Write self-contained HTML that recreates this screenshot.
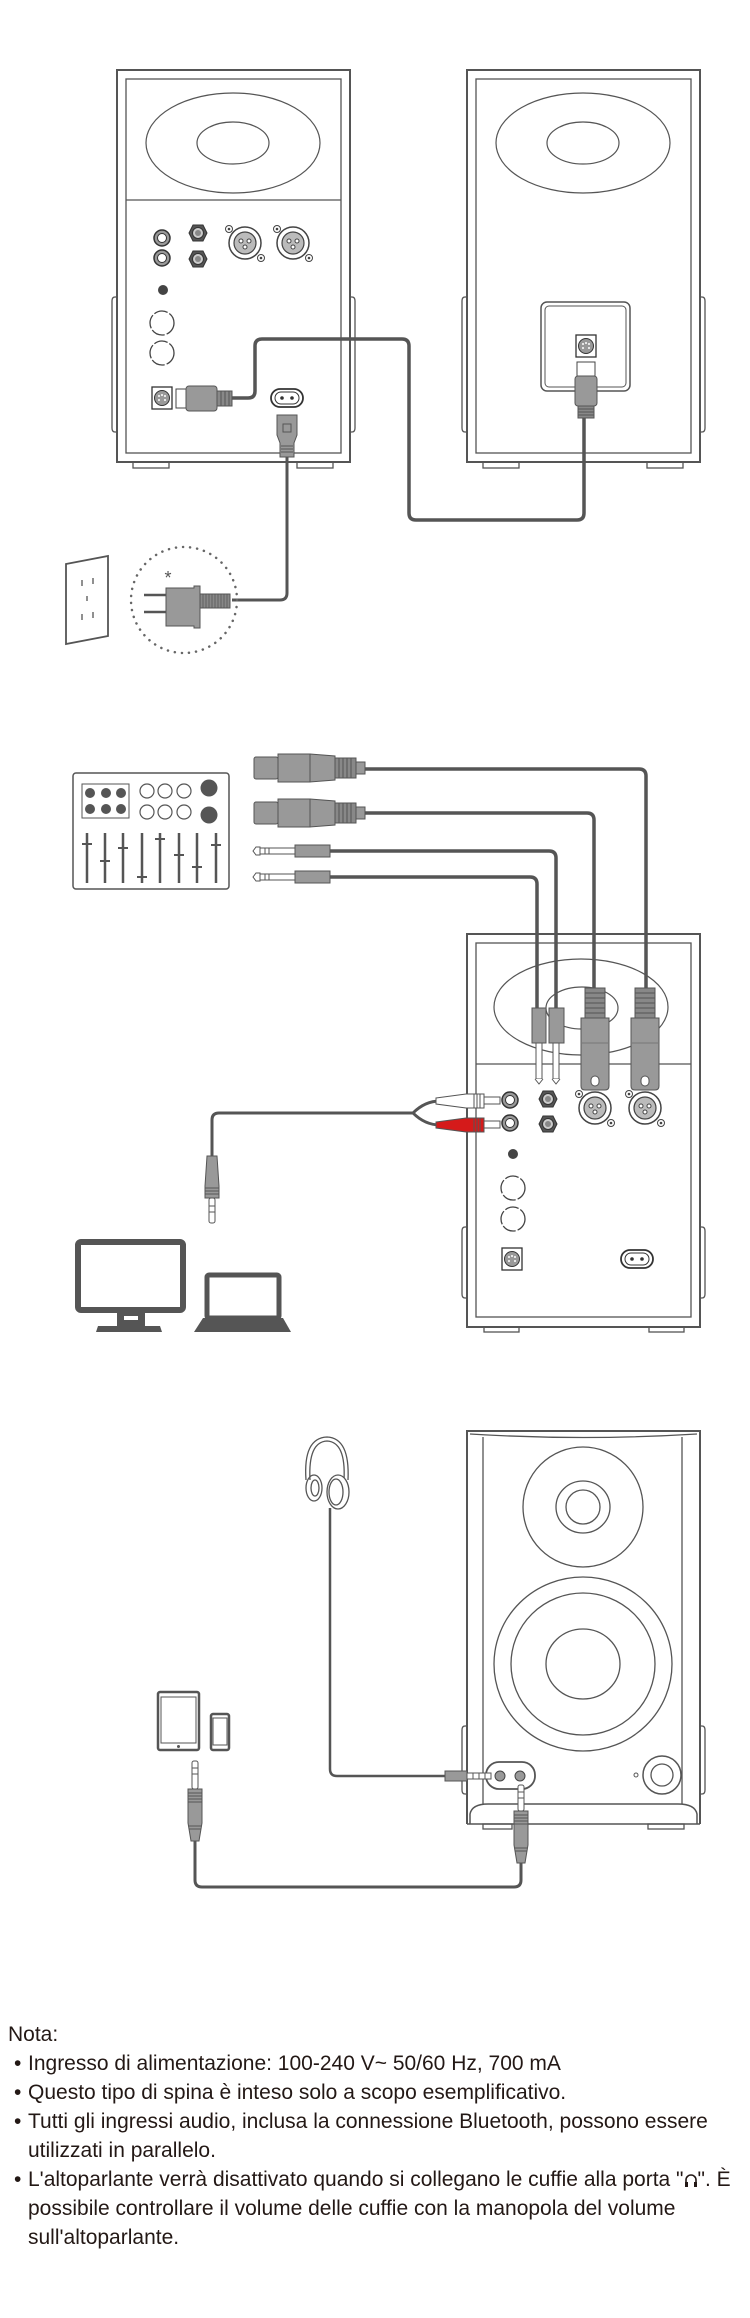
<!DOCTYPE html>
<html><head><meta charset="utf-8"><style>
html,body{margin:0;padding:0;background:#fff;}
body{width:750px;height:2318px;position:relative;overflow:hidden;font-family:"Liberation Sans",sans-serif;}
svg{position:absolute;left:0;top:0;}
.t{position:absolute;left:0;top:2020px;font-size:21px;line-height:29px;color:#231815;white-space:nowrap;}
.t div{height:29px;}
.b{padding-left:14px;}
.b span.d{display:inline-block;width:14px;}
.c{padding-left:28px;}
</style></head><body>
<svg width="750" height="2318" viewBox="0 0 750 2318" xmlns="http://www.w3.org/2000/svg">
<defs>
<g id="xlrs"><circle r="16" fill="#fff" stroke="#444" stroke-width="1.5"/><circle r="11" fill="#bbb" stroke="#444" stroke-width="1.2"/><circle cx="-4" cy="-2" r="2" fill="#fff" stroke="#444"/><circle cx="4" cy="-2" r="2" fill="#fff" stroke="#444"/><circle cx="0" cy="4" r="2" fill="#fff" stroke="#444"/><circle cx="-16" cy="-14" r="3.5" fill="#fff" stroke="#444"/><circle cx="-16" cy="-14" r="1.3" fill="#444"/><circle cx="16" cy="15" r="3.5" fill="#fff" stroke="#444"/><circle cx="16" cy="15" r="1.3" fill="#444"/></g>
<g id="rca"><circle r="8" fill="#999" stroke="#333" stroke-width="1.5"/><circle r="4.5" fill="#fff" stroke="#333"/></g>
<g id="jk"><polygon points="-5,-8 5,-8 9,0 5,8 -5,8 -9,0" fill="#555" stroke="#333"/><circle r="5.5" fill="#ccc" stroke="#333"/><circle r="3" fill="#888"/></g>
<g id="knob"><circle r="12" fill="#fff" stroke="#444" stroke-width="1.3" stroke-dasharray="14 2"/></g>
<g id="din"><rect x="-10" y="-11" width="20" height="22" fill="#fff" stroke="#333" stroke-width="1.3"/><circle r="7.5" fill="#999" stroke="#333"/><circle cx="-3" cy="-2" r="1" fill="#fff"/><circle cx="0" cy="-3" r="1" fill="#fff"/><circle cx="3" cy="-2" r="1" fill="#fff"/><circle cx="-3" cy="2" r="1" fill="#fff"/><circle cx="3" cy="2" r="1" fill="#fff"/></g>
<g id="pwr"><rect x="-16" y="-9" width="32" height="18" rx="9" fill="#fff" stroke="#333" stroke-width="1.8"/><rect x="-12" y="-6" width="24" height="12" rx="6" fill="#fff" stroke="#333" stroke-width="1"/><circle cx="-5" r="1.8" fill="#333"/><circle cx="5" r="1.8" fill="#333"/></g>
<g id="xlrh"><rect x="0" y="-11" width="24" height="22" rx="2" fill="#999" stroke="#555"/><rect x="24" y="-14" width="32" height="28" fill="#999" stroke="#555"/><polygon points="56,-14 81,-12 81,12 56,14" fill="#999" stroke="#555"/><rect x="81" y="-10" width="21" height="20" fill="#888" stroke="#555"/><path d="M85,-10v20M89,-10v20M93,-10v20M97,-10v20" stroke="#555"/><rect x="102" y="-6" width="9" height="12" fill="#999" stroke="#555"/></g>
<g id="jkh"><path d="M0,0 l3,-4 h4 v8 h-4z" fill="#fff" stroke="#555"/><rect x="7" y="-3" width="35" height="6" fill="#fff" stroke="#555"/><path d="M12,-3v6M16,-3v6" stroke="#555"/><rect x="42" y="-6" width="35" height="12" fill="#999" stroke="#555"/></g>
</defs>
<g fill="none" stroke="#555" stroke-width="2">
<!-- ===== PANEL 1 ===== -->
<rect x="117" y="70" width="233" height="392"/>
<rect x="126" y="79" width="215" height="374" stroke-width="1.3"/>
<line x1="126" y1="200" x2="341" y2="200" stroke-width="1.3"/>
<ellipse cx="233" cy="143" rx="87" ry="50" stroke-width="1.2"/>
<ellipse cx="233" cy="143" rx="36" ry="21" stroke-width="1.2"/>
<path d="M117,297h-2q-3,0-3,4v127q0,4,3,4h2M350,297h2q3,0,3,4v127q0,4-3,4h-2" stroke-width="1.3"/>
<rect x="133" y="462" width="36" height="6" stroke-width="1.3"/><rect x="297" y="462" width="36" height="6" stroke-width="1.3"/>
<rect x="467" y="70" width="233" height="392"/>
<rect x="476" y="79" width="215" height="374" stroke-width="1.3"/>
<ellipse cx="583" cy="143" rx="87" ry="50" stroke-width="1.2"/>
<ellipse cx="583" cy="143" rx="36" ry="21" stroke-width="1.2"/>
<path d="M467,297h-2q-3,0-3,4v127q0,4,3,4h2M700,297h2q3,0,3,4v127q0,4-3,4h-2" stroke-width="1.3"/>
<rect x="483" y="462" width="36" height="6" stroke-width="1.3"/><rect x="647" y="462" width="36" height="6" stroke-width="1.3"/>
<rect x="541" y="302" width="89" height="89" rx="6" stroke-width="1.5"/>
<rect x="545" y="306" width="81" height="81" rx="4" stroke-width="1"/>
</g>
<use href="#rca" x="162" y="238"/><use href="#rca" x="162" y="258"/>
<use href="#jk" x="198" y="233"/><use href="#jk" x="198" y="259"/>
<use href="#xlrs" x="245" y="243"/><use href="#xlrs" x="293" y="243"/>
<circle cx="163" cy="290" r="5" fill="#444"/>
<use href="#knob" x="162" y="323"/><use href="#knob" x="162" y="353"/>
<use href="#din" x="162" y="398"/>
<use href="#pwr" x="287" y="398"/>
<use href="#din" x="586" y="346"/>
<path d="M232,398 H248 Q255,398 255,391 V346 Q255,339 262,339 H402 Q409,339 409,346 V513 Q409,520 416,520 H577 Q584,520 584,513 V417" fill="none" stroke="#555" stroke-width="3.5"/>
<rect x="176" y="389" width="10" height="19" fill="#fff" stroke="#444"/>
<rect x="186" y="386" width="31" height="25" rx="3" fill="#999" stroke="#555"/>
<rect x="217" y="391" width="15" height="15" fill="#888" stroke="#555"/><path d="M221,391v15M225,391v15M229,391v15" stroke="#555"/>
<rect x="577" y="362" width="18" height="14" fill="#fff" stroke="#444"/>
<rect x="575" y="376" width="22" height="30" rx="3" fill="#999" stroke="#555"/>
<rect x="578" y="406" width="16" height="12" fill="#888" stroke="#555"/><path d="M578,409h16M578,412h16M578,415h16" stroke="#555"/>
<path d="M287,457 V593 Q287,600 280,600 H232" fill="none" stroke="#555" stroke-width="3"/>
<path d="M277,415 h20 v20 l-3,8 v14 h-14 v-14 l-3,-8z" fill="#999" stroke="#555"/>
<rect x="283" y="424" width="8" height="8" fill="none" stroke="#555"/>
<path d="M281,446h12M281,449h12M281,452h12" stroke="#555"/>
<circle cx="184" cy="600" r="53" fill="none" stroke="#666" stroke-width="2.5" stroke-dasharray="0.1 7" stroke-linecap="round"/>
<text x="168" y="584" font-size="18" fill="#555" text-anchor="middle" font-family="Liberation Sans, sans-serif">*</text>
<path d="M144,595h22M144,612h22" stroke="#555" stroke-width="2.5"/>
<path d="M166,588 h28 v-2 h6 v42 h-6 v-2 h-28z" fill="#999" stroke="#555"/>
<rect x="200" y="594" width="30" height="14" fill="#888" stroke="#555"/>
<path d="M203,594v14M206,594v14M209,594v14M212,594v14M215,594v14M218,594v14M221,594v14M224,594v14M227,594v14" stroke="#555" stroke-width="0.8"/>
<polygon points="66,564 108,556 108,636 66,644" fill="#fff" stroke="#555" stroke-width="1.8"/>
<path d="M82,580v6M93,578v6M87,596v5M82,614v6M93,612v6" stroke="#555" stroke-width="1.3"/>
<!-- ===== PANEL 2 ===== -->
<rect x="73" y="773" width="156" height="116" rx="3" fill="#fff" stroke="#555" stroke-width="1.5"/>
<rect x="82" y="784" width="47" height="34" fill="none" stroke="#555"/>
<g fill="#555"><circle cx="90" cy="793" r="5"/><circle cx="106" cy="793" r="5"/><circle cx="121" cy="793" r="5"/><circle cx="90" cy="809" r="5"/><circle cx="106" cy="809" r="5"/><circle cx="121" cy="809" r="5"/><circle cx="209" cy="788" r="8.5"/><circle cx="209" cy="815" r="8.5"/></g>
<g fill="none" stroke="#555" stroke-width="1.2"><circle cx="147" cy="791" r="7"/><circle cx="165" cy="791" r="7"/><circle cx="184" cy="791" r="7"/><circle cx="147" cy="812" r="7"/><circle cx="165" cy="812" r="7"/><circle cx="184" cy="812" r="7"/></g>
<g stroke="#555" stroke-width="2.5"><path d="M87,833v50M105,833v50M123,833v50M142,833v50M160,833v50M179,833v50M197,833v50M216,833v50"/><path d="M82,844h10M100,861h10M118,848h10M137,877h10M155,839h10M174,855h10M192,867h10M211,845h10" stroke-width="2"/></g>
<g fill="none" stroke="#555" stroke-width="3.5">
<path d="M365,769 H639 Q646,769 646,776 V988"/>
<path d="M365,813 H587 Q594,813 594,820 V988"/>
<path d="M330,851 H549 Q556,851 556,858 V1008"/>
<path d="M330,877 H530 Q537,877 537,884 V1008"/>
</g>
<use href="#xlrh" x="254" y="768"/><use href="#xlrh" x="254" y="813"/>
<use href="#jkh" x="253" y="851"/><use href="#jkh" x="253" y="877"/>
<g fill="none" stroke="#555" stroke-width="2">
<rect x="467" y="934" width="233" height="393"/>
<rect x="476" y="943" width="215" height="374" stroke-width="1.3"/>
<line x1="476" y1="1064" x2="691" y2="1064" stroke-width="1.3"/>
<ellipse cx="581" cy="1007" rx="87" ry="48" stroke-width="1.2"/>
<ellipse cx="582" cy="1008" rx="36" ry="21" stroke-width="1.2"/>
<path d="M467,1227h-2q-3,0-3,4v63q0,4,3,4h2M700,1227h2q3,0,3,4v63q0,4-3,4h-2" stroke-width="1.3"/>
<rect x="484" y="1327" width="35" height="5" stroke-width="1.3"/><rect x="649" y="1327" width="35" height="5" stroke-width="1.3"/>
</g>
<g>
<rect x="585" y="988" width="20" height="30" fill="#888" stroke="#555"/><path d="M585,993h20M585,998h20M585,1003h20M585,1008h20M585,1013h20" stroke="#555"/>
<path d="M581,1018h28v68q0,4-4,4h-20q-4,0-4-4z" fill="#999" stroke="#555"/><path d="M581,1043h28" stroke="#777"/><rect x="591" y="1076" width="8" height="10" rx="4" fill="#fff" stroke="#555"/>
<rect x="635" y="988" width="20" height="30" fill="#888" stroke="#555"/><path d="M635,993h20M635,998h20M635,1003h20M635,1008h20M635,1013h20" stroke="#555"/>
<path d="M631,1018h28v68q0,4-4,4h-20q-4,0-4-4z" fill="#999" stroke="#555"/><path d="M631,1043h28" stroke="#777"/><rect x="641" y="1076" width="8" height="10" rx="4" fill="#fff" stroke="#555"/>
<rect x="532" y="1008" width="14" height="35" fill="#999" stroke="#555"/><rect x="536" y="1043" width="6" height="36" fill="#fff" stroke="#555"/><path d="M535,1079 l4,5 4,-5" fill="#fff" stroke="#555"/>
<rect x="549" y="1008" width="15" height="35" fill="#999" stroke="#555"/><rect x="553" y="1043" width="6" height="36" fill="#fff" stroke="#555"/><path d="M552,1079 l4,5 4,-5" fill="#fff" stroke="#555"/>
</g>
<use href="#rca" x="510" y="1100"/><use href="#rca" x="510" y="1123"/>
<use href="#jk" x="548" y="1099"/><use href="#jk" x="548" y="1124"/>
<use href="#xlrs" x="595" y="1108"/><use href="#xlrs" x="645" y="1108"/>
<circle cx="513" cy="1154" r="5" fill="#444"/>
<use href="#knob" x="513" y="1188"/><use href="#knob" x="513" y="1219"/>
<use href="#din" x="512" y="1259"/>
<use href="#pwr" x="637" y="1259"/>
<path d="M413,1113 Q425,1101 440,1101 M413,1113 Q425,1125 440,1125 M413,1113 H219 Q212,1113 212,1120 V1156" fill="none" stroke="#555" stroke-width="3"/>
<path d="M436,1098 l30,-4 h8 v14 h-8 l-30,-4z" fill="#fff" stroke="#555"/><rect x="474" y="1094" width="10" height="14" fill="#fff" stroke="#555"/><path d="M477,1094v14M480,1094v14" stroke="#555"/><rect x="484" y="1097" width="16" height="7" fill="#fff" stroke="#555"/>
<path d="M436,1122 l30,-4 h8 v14 h-8 l-30,-4z" fill="#d51a1a" stroke="#555"/><rect x="474" y="1118" width="10" height="14" fill="#d51a1a" stroke="#555"/><path d="M477,1118v14M480,1118v14" stroke="#555"/><rect x="484" y="1121" width="16" height="7" fill="#fff" stroke="#555"/>
<path d="M207,1156 h10 l2,30 v12 h-14 v-12z" fill="#999" stroke="#555"/><path d="M205,1188h14M205,1191h14M205,1194h14" stroke="#555"/>
<rect x="209" y="1198" width="6" height="25" rx="2" fill="#fff" stroke="#555"/><path d="M209,1206h6M209,1212h6" stroke="#555"/>
<rect x="78" y="1242" width="105" height="68" rx="3" fill="#fff" stroke="#555" stroke-width="6"/>
<rect x="117" y="1313" width="28" height="14" fill="#555"/><rect x="124" y="1316" width="14" height="4" fill="#fff"/>
<polygon points="96,1332 162,1332 160,1326 98,1326" fill="#555"/>
<rect x="207" y="1275" width="72" height="43" rx="2" fill="#fff" stroke="#555" stroke-width="5"/>
<polygon points="194,1332 291,1332 283,1318 203,1318" fill="#555"/>
<!-- ===== PANEL 3 ===== -->
<g fill="none" stroke="#555" stroke-width="2">
<path d="M467,1824 V1431 H700 V1824"/>
<path d="M470,1434 Q583,1441 697,1434" stroke-width="1.3"/>
<path d="M483,1437 V1804 M682,1437 V1804" stroke-width="1.3"/>
<path d="M470,1824 V1814 Q472,1804 488,1804 H678 Q695,1804 697,1814 V1824 M467,1824 H700" stroke-width="1.5"/>
<path d="M467,1726h-2q-3,0-3,4v60q0,4,3,4h2M700,1726h2q3,0,3,4v60q0,4-3,4h-2" stroke-width="1.3"/>
<rect x="483" y="1824" width="29" height="5" stroke-width="1.3"/><rect x="648" y="1824" width="36" height="5" stroke-width="1.3"/>
<ellipse cx="583" cy="1507" rx="60" ry="60" stroke-width="1.3"/>
<ellipse cx="583" cy="1507" rx="27" ry="26" stroke-width="1.3"/>
<ellipse cx="583" cy="1507" rx="17" ry="17" stroke-width="1.3"/>
<ellipse cx="583" cy="1664" rx="89" ry="87" stroke-width="1.3"/>
<ellipse cx="583" cy="1664" rx="72" ry="71" stroke-width="1.3"/>
<ellipse cx="583" cy="1664" rx="37" ry="35" stroke-width="1.3"/>
<rect x="486" y="1762" width="49" height="27" rx="13" stroke-width="1.8"/>
<circle cx="662" cy="1775" r="19" stroke-width="1.5"/>
<circle cx="662" cy="1775" r="11" stroke-width="1.3"/>
<circle cx="636" cy="1775" r="2" stroke-width="1"/>
</g>
<circle cx="500" cy="1776" r="5" fill="#999" stroke="#444"/><circle cx="520" cy="1776" r="5" fill="#999" stroke="#444"/>
<path d="M330,1508 V1769 Q330,1776 337,1776 H445" fill="none" stroke="#555" stroke-width="2.5"/>
<rect x="445" y="1771" width="22" height="10" fill="#999" stroke="#555"/>
<rect x="467" y="1773" width="24" height="6" fill="#fff" stroke="#555"/><path d="M473,1773v6M479,1773v6M485,1773v6" stroke="#555"/>
<g fill="none" stroke="#555" stroke-width="1.3">
<path d="M306,1480 Q303,1438 327,1437 Q350,1438 348,1480"/>
<path d="M310,1480 Q308,1442 327,1441 Q346,1442 344,1480"/>
<ellipse cx="314" cy="1488" rx="8" ry="13"/><ellipse cx="315" cy="1488" rx="4" ry="8"/>
<ellipse cx="338" cy="1492" rx="11" ry="17" fill="#fff"/><ellipse cx="336" cy="1492" rx="7" ry="13"/>
</g>
<rect x="158" y="1692" width="41" height="58" rx="2" fill="#fff" stroke="#555" stroke-width="2.5"/><rect x="161" y="1697" width="35" height="46" fill="none" stroke="#555" stroke-width="1"/><circle cx="178.5" cy="1746.5" r="1.5" fill="#555"/>
<rect x="211" y="1714" width="18" height="36" rx="2" fill="#fff" stroke="#555" stroke-width="2.5"/><rect x="213" y="1718" width="14" height="27" fill="none" stroke="#555" stroke-width="1"/>
<path d="M195,1841 V1880 Q195,1887 202,1887 H514 Q521,1887 521,1880 V1863" fill="none" stroke="#555" stroke-width="3"/>
<rect x="192" y="1761" width="6" height="28" rx="2" fill="#fff" stroke="#555"/><path d="M192,1768h6M192,1774h6" stroke="#555"/>
<path d="M188,1789 h14 v34 l-3,18 h-8 l-3,-18z" fill="#999" stroke="#555"/><path d="M188,1793h14M188,1796h14M188,1799h14M188,1802h14M189,1826h12M189,1829h12" stroke="#555"/>
<rect x="518" y="1785" width="6" height="26" rx="2" fill="#fff" stroke="#555"/><path d="M518,1792h6M518,1798h6" stroke="#555"/>
<path d="M514,1811 h14 v34 l-3,18 h-8 l-3,-18z" fill="#999" stroke="#555"/><path d="M514,1815h14M514,1818h14M514,1821h14M514,1824h14M515,1848h12M515,1851h12" stroke="#555"/>
</svg>
<div class="t">
<div style="padding-left:8px">Nota:</div>
<div class="b"><span class="d">•</span>Ingresso di alimentazione: 100-240 V~ 50/60 Hz, 700 mA</div>
<div class="b"><span class="d">•</span>Questo tipo di spina è inteso solo a scopo esemplificativo.</div>
<div class="b"><span class="d">•</span>Tutti gli ingressi audio, inclusa la connessione Bluetooth, possono essere</div>
<div class="c">utilizzati in parallelo.</div>
<div class="b"><span class="d">•</span>L'altoparlante verrà disattivato quando si collegano le cuffie alla porta "<svg style="position:static;display:inline-block;vertical-align:-2px" width="14" height="15" viewBox="0 0 14 15"><path d="M2,12V7a5,5 0 0 1 10,0v5" fill="none" stroke="#231815" stroke-width="1.6"/><rect x="1" y="9" width="3" height="5" fill="#231815"/><rect x="10" y="9" width="3" height="5" fill="#231815"/></svg>". È</div>
<div class="c">possibile controllare il volume delle cuffie con la manopola del volume</div>
<div class="c">sull'altoparlante.</div>
</div>
</body></html>
